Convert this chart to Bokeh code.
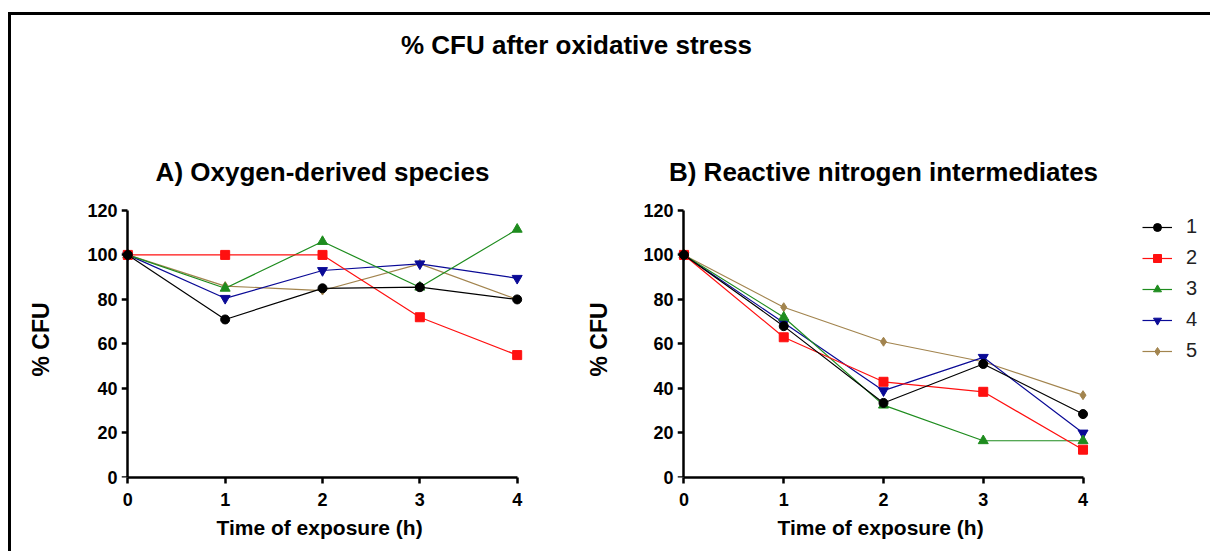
from bokeh.plotting import figure
from bokeh.models import LinearAxis, Legend, LegendItem, FixedTicker
from bokeh.layouts import column, row
from bokeh.embed import file_html
from bokeh.resources import INLINE

# ---------------- data ----------------
time_h = [0, 1, 2, 3, 4]
series_labels = ["1", "2", "3", "4", "5"]

# A) Oxygen-derived species (% CFU)
a_s1 = [100, 71, 85, 85.5, 80]
a_s2 = [100, 100, 100, 72, 55]
a_s3 = [100, 85, 106, 85.5, 111.5]
a_s4 = [100, 80.5, 93, 96, 89.5]
a_s5 = [100, 86, 84, 96, 80]

# B) Reactive nitrogen intermediates (% CFU)
b_s1 = [100, 68, 33.5, 51, 28.5]
b_s2 = [100, 63, 43, 38.5, 12.5]
b_s3 = [100, 72, 32.5, 16.5, 16.5]
b_s4 = [100, 69.5, 39, 54, 20]
b_s5 = [100, 76.5, 61, 52, 37]

y_ticks = [0, 20, 40, 60, 80, 100, 120]
x_ticks = [0, 1, 2, 3, 4]

main_title = "% CFU after oxidative stress"
title_a = "A) Oxygen-derived species"
title_b = "B) Reactive nitrogen intermediates"
x_label = "Time of exposure  (h)"
y_label = "% CFU"

# ---------------- style ----------------
FONT = "Liberation Sans"
colors = ["#000000", "#ff1010", "#1e8c1e", "#0a0a96", "#a2844e"]
markers = ["circle", "square", "triangle", "inverted_triangle", "diamond"]
msizes = [9, 9, 10, 10, 9]
XPAD = 0.065


def style_axis(ax, label_size):
    ax.axis_line_width = 2.5
    ax.major_tick_line_width = 2.5
    ax.major_tick_out = 6
    ax.major_tick_in = 0
    ax.minor_tick_line_color = None
    ax.major_label_text_font = FONT
    ax.major_label_text_font_style = "bold"
    ax.major_label_text_font_size = "18px"
    ax.major_label_text_color = "black"
    ax.axis_label_text_font = FONT
    ax.axis_label_text_font_style = "bold"
    ax.axis_label_text_font_size = label_size
    ax.axis_label_text_color = "black"


def make_panel(title, series, min_left, frame_w, min_right, ylab_standoff,
               with_legend):
    p = figure(frame_width=frame_w, frame_height=276,
               min_border_left=min_left, min_border_right=min_right,
               min_border_top=63, min_border_bottom=74,
               x_range=(-XPAD, 4 + XPAD), y_range=(0, 124),
               y_axis_location=None,
               output_backend="svg", toolbar_location=None)
    p.outline_line_color = None
    p.xgrid.visible = False
    p.ygrid.visible = False
    p.title.text = title
    p.title.align = "center"
    p.title.text_font = FONT
    p.title.text_font_style = "bold"
    p.title.text_font_size = "26px"
    p.title.text_color = "black"
    p.title.standoff = 29

    xa = p.xaxis[0]
    xa.ticker = FixedTicker(ticks=x_ticks)
    xa.bounds = (0, 4)
    xa.axis_label = x_label
    style_axis(xa, "21px")
    xa.major_label_standoff = 9
    xa.axis_label_standoff = 7

    # axis line + ticks sitting exactly at x = 0
    ya_line = LinearAxis(fixed_location=0, bounds=(0, 120),
                         ticker=FixedTicker(ticks=y_ticks))
    style_axis(ya_line, "23px")
    ya_line.major_label_text_color = None
    p.add_layout(ya_line, "left")

    # labels in the side panel
    ya = LinearAxis(ticker=FixedTicker(ticks=y_ticks), axis_label=y_label)
    style_axis(ya, "23px")
    ya.axis_line_color = None
    ya.major_tick_line_color = None
    ya.major_tick_out = 0
    ya.major_label_standoff = 4
    ya.axis_label_standoff = ylab_standoff
    p.add_layout(ya, "left")

    rends = {}
    for i in reversed(range(len(series))):
        ln = p.line(time_h, series[i], line_color=colors[i], line_width=1.2)
        mk = p.scatter(time_h, series[i], marker=markers[i], size=msizes[i],
                       fill_color=colors[i], line_color=colors[i])
        rends[i] = [ln, mk]

    if with_legend:
        items = [LegendItem(label=series_labels[i], renderers=rends[i])
                 for i in range(len(series))]
        lg = Legend(items=items, location=(53, 115), glyph_width=30,
                    glyph_height=20, label_height=20, label_standoff=14,
                    spacing=8, padding=0, margin=0,
                    border_line_alpha=0, background_fill_alpha=0,
                    label_text_font=FONT, label_text_font_size="20px",
                    label_text_color="#222222")
        p.add_layout(lg, "right")
    return p


pa = make_panel(title_a, [a_s1, a_s2, a_s3, a_s4, a_s5], 110, 402, 60, 30,
                False)
pb = make_panel(title_b, [b_s1, b_s2, b_s3, b_s4, b_s5], 94, 412, 118, 28,
                True)

top = figure(width=1130, height=123, min_border_top=46, min_border_bottom=0,
             min_border_left=0, min_border_right=0,
             x_axis_location=None, y_axis_location=None,
             output_backend="svg", toolbar_location=None)
top.outline_line_color = None
top.xgrid.visible = False
top.ygrid.visible = False
top.title.text = main_title
top.title.align = "center"
top.title.text_font = FONT
top.title.text_font_style = "bold"
top.title.text_font_size = "26px"
top.title.text_color = "black"
top.title.standoff = 4

layout = column(top, row(pa, pb),
                styles={"border-top": "3px solid black",
                        "border-left": "3px solid black",
                        "margin-top": "12px",
                        "margin-left": "8px"})

open("out.html", "w").write(file_html(layout, INLINE))
